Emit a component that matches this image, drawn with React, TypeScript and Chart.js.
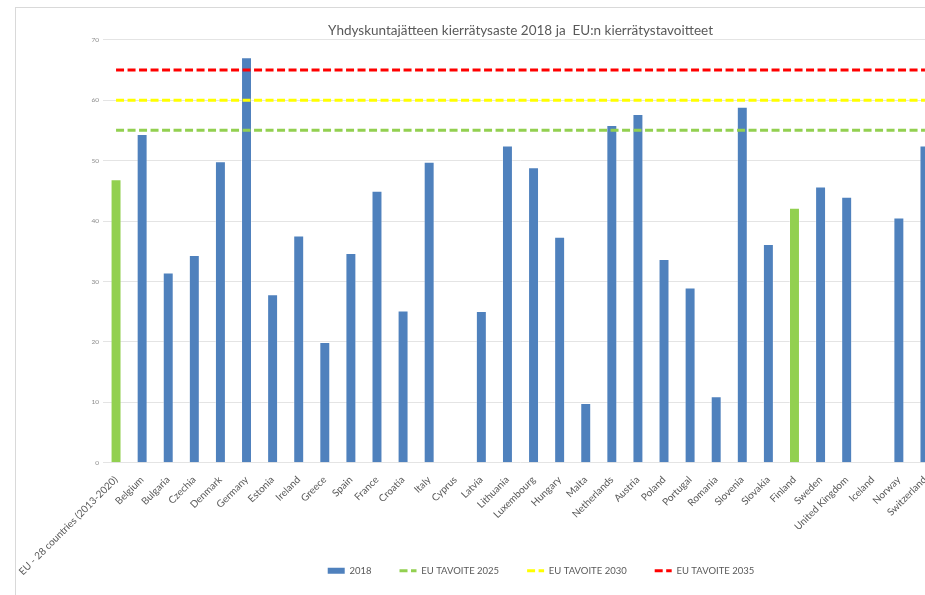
import React, { useEffect, useRef } from 'react';
import { Chart, registerables } from 'chart.js';

Chart.register(...registerables);

// ---------- data ----------
const categories = [
  'EU - 28 countries (2013-2020)', 'Belgium', 'Bulgaria', 'Czechia', 'Denmark', 'Germany', 'Estonia',
  'Ireland', 'Greece', 'Spain', 'France', 'Croatia', 'Italy', 'Cyprus', 'Latvia', 'Lithuania',
  'Luxembourg', 'Hungary', 'Malta', 'Netherlands', 'Austria', 'Poland', 'Portugal', 'Romania',
  'Slovenia', 'Slovakia', 'Finland', 'Sweden', 'United Kingdom', 'Iceland', 'Norway', 'Switzerland',
];

const recycling2018: (number | null)[] = [
  46.9, 54.4, 31.5, 34.4, 49.9, 67.1, 27.9,
  37.6, 20.0, 34.7, 45.0, 25.2, 49.8, null, 25.1, 52.5,
  48.9, 37.4, 9.9, 55.9, 57.7, 33.7, 29.0, 11.0,
  58.9, 36.2, 42.2, 45.7, 44.0, null, 40.6, 52.5,
];

const highlightedCategories = ['EU - 28 countries (2013-2020)', 'Finland'];

const target2025 = [
  55, 55, 55, 55, 55, 55, 55, 55, 55, 55, 55, 55, 55, 55, 55, 55,
  55, 55, 55, 55, 55, 55, 55, 55, 55, 55, 55, 55, 55, 55, 55, 55,
];
const target2030 = [
  60, 60, 60, 60, 60, 60, 60, 60, 60, 60, 60, 60, 60, 60, 60, 60,
  60, 60, 60, 60, 60, 60, 60, 60, 60, 60, 60, 60, 60, 60, 60, 60,
];
const target2035 = [
  65, 65, 65, 65, 65, 65, 65, 65, 65, 65, 65, 65, 65, 65, 65, 65,
  65, 65, 65, 65, 65, 65, 65, 65, 65, 65, 65, 65, 65, 65, 65, 65,
];

const yTickValues = [0, 10, 20, 30, 40, 50, 60, 70];
const seriesLabels = ['2018', 'EU TAVOITE 2025', 'EU TAVOITE 2030', 'EU TAVOITE 2035'];
const titleText = 'Yhdyskuntajätteen kierrätysaste 2018 ja  EU:n kierrätystavoitteet';

// ---------- style ----------
const BLUE = '#4F81BD';
const BAR_GREEN = '#92D050';
const LINE_GREEN = '#92D050';
const LINE_YELLOW = '#FFFF00';
const LINE_RED = '#FF0000';
const TEXT = '#595959';
const FONT = 'Lato, "Liberation Sans", sans-serif';
const DASH = [8, 3.5];
const CANVAS_W = 1082;
const CANVAS_H = 595;

export default function App() {
  const ref = useRef<HTMLCanvasElement | null>(null);

  useEffect(() => {
    if (!ref.current) return;
    Chart.defaults.font.family = FONT;
    const lineColors = [LINE_GREEN, LINE_YELLOW, LINE_RED];
    const chart = new Chart(ref.current, {
      type: 'bar',
      data: {
        labels: categories,
        datasets: [
          {
            type: 'bar',
            label: seriesLabels[0],
            data: recycling2018,
            backgroundColor: categories.map((c) => (highlightedCategories.includes(c) ? BAR_GREEN : BLUE)),
            borderColor: 'rgba(255,255,255,0.35)',
            borderWidth: 1,
            barPercentage: 0.42,
            categoryPercentage: 1,
            order: 1,
          },
          {
            type: 'line',
            label: seriesLabels[1],
            data: target2025,
            borderColor: lineColors[0],
            borderWidth: 3,
            borderDash: DASH,
            pointRadius: 0,
            fill: false,
            order: 0,
          },
          {
            type: 'line',
            label: seriesLabels[2],
            data: target2030,
            borderColor: lineColors[1],
            borderWidth: 3,
            borderDash: DASH,
            pointRadius: 0,
            fill: false,
            order: 0,
          },
          {
            type: 'line',
            label: seriesLabels[3],
            data: target2035,
            borderColor: lineColors[2],
            borderWidth: 3,
            borderDash: DASH,
            pointRadius: 0,
            fill: false,
            order: 0,
          },
        ] as any,
      },
      options: {
        responsive: false,
        animation: false,
        devicePixelRatio: 1,
        layout: { padding: { left: 0, right: 0, top: 0, bottom: 9.5 } },
        plugins: {
          title: {
            display: true,
            text: titleText,
            fullSize: false,
            color: TEXT,
            font: { family: FONT, size: 13.5, weight: 'normal' },
            padding: { top: 22.5, bottom: 1 },
          },
          legend: {
            position: 'bottom',
            labels: {
              usePointStyle: true,
              pointStyleWidth: 17,
              boxHeight: 6,
              padding: 28,
              color: TEXT,
              font: { family: FONT, size: 9.5 },
              generateLabels: (ch: any) =>
                ch.data.datasets.map((ds: any, i: number) =>
                  i === 0
                    ? {
                        text: ds.label,
                        fillStyle: BLUE,
                        strokeStyle: BLUE,
                        lineWidth: 0,
                        pointStyle: 'rect',
                        datasetIndex: i,
                        hidden: false,
                        fontColor: TEXT,
                      }
                    : {
                        text: ds.label,
                        fillStyle: 'rgba(0,0,0,0)',
                        strokeStyle: lineColors[i - 1],
                        lineWidth: 3,
                        lineDash: DASH,
                        pointStyle: 'line',
                        datasetIndex: i,
                        hidden: false,
                        fontColor: TEXT,
                      }
                ),
            },
          },
          tooltip: { enabled: false },
        },
        scales: {
          x: {
            grid: { display: false, drawTicks: false },
            border: { display: false },
            ticks: {
              autoSkip: false,
              minRotation: 45,
              maxRotation: 45,
              padding: 11,
              color: TEXT,
              font: { family: FONT, size: 10 },
            },
            afterFit: (s: any) => {
              s.height = 75.2;
              // let the long rotated labels run past the axis box, as in the original
              s._computeLabelArea = () => undefined;
            },
          },
          y: {
            min: 0,
            max: 70,
            afterBuildTicks: (s: any) => {
              s.ticks = yTickValues.map((v) => ({ value: v }));
            },
            ticks: { padding: 4, color: '#8c8c8c', font: { family: FONT, size: 6.5 } },
            grid: { color: '#e4e4e4', lineWidth: 1, drawTicks: false },
            border: { display: false },
            afterFit: (s: any) => {
              s.width = 103;
            },
          },
          yPad: {
            type: 'linear',
            position: 'right',
            display: true,
            grid: { display: false, drawTicks: false },
            ticks: { display: false },
            border: { display: false },
            afterFit: (s: any) => {
              s.width = 144;
            },
          },
        } as any,
      },
    } as any);
    return () => chart.destroy();
  }, []);

  return (
    <div
      style={{
        position: 'fixed',
        left: 0,
        top: 0,
        width: 925,
        height: 595,
        overflow: 'hidden',
        background: '#ffffff',
      }}
    >
      <div
        style={{
          position: 'absolute',
          left: 15,
          top: 7,
          width: 1200,
          height: 800,
          border: '1px solid #d9d9d9',
          boxSizing: 'border-box',
        }}
      />
      <canvas
        ref={ref}
        width={CANVAS_W}
        height={CANVAS_H}
        style={{ position: 'absolute', left: 0, top: 0, width: CANVAS_W, height: CANVAS_H }}
      />
    </div>
  );
}
